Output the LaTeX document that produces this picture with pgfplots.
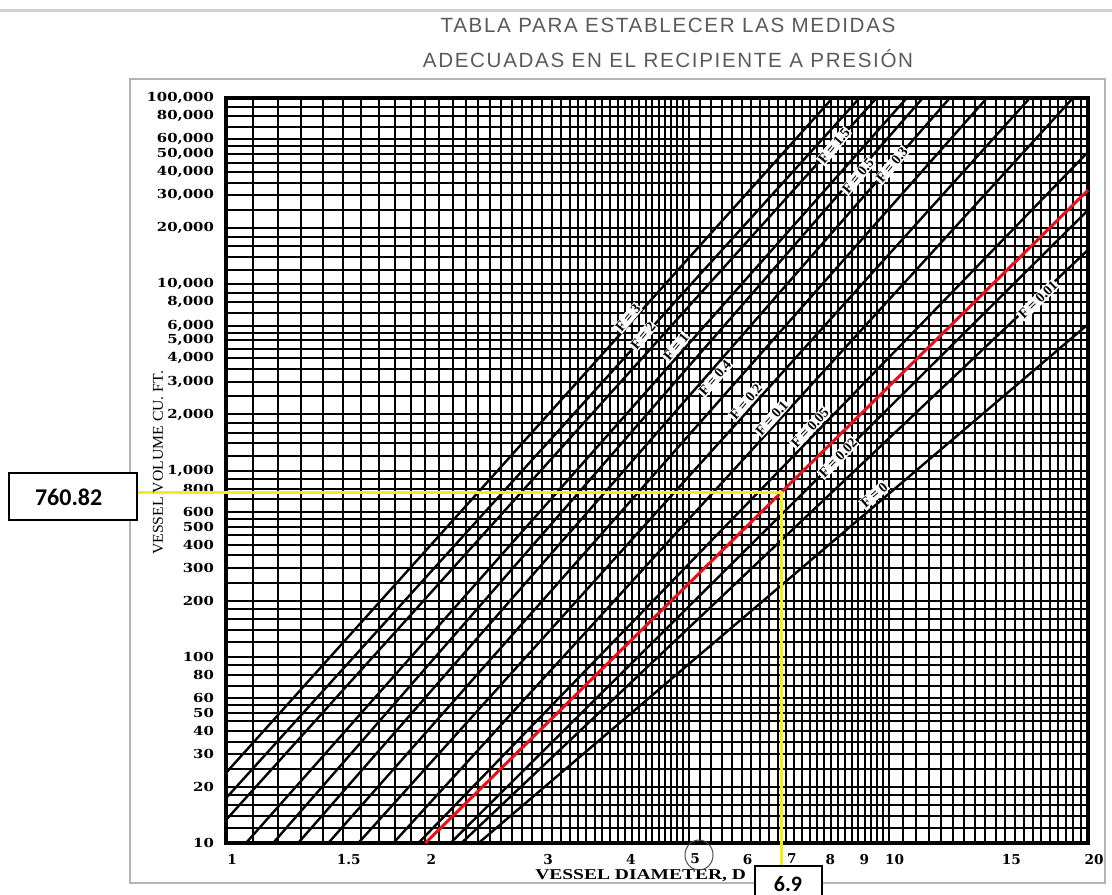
\documentclass[border=0pt]{standalone}
\usepackage{pgfplots}
\pgfplotsset{compat=1.18}
\usepackage{graphicx}
\usepackage{fontspec}
\setmainfont{Liberation Serif}
\newfontfamily\tickfont{DejaVu Serif}
\newfontfamily\titlefont[LetterSpace=8]{Liberation Sans}
\newfontfamily\boxfont{Carlito}
\definecolor{titlegray}{HTML}{5A5A5A}
\definecolor{framegray}{HTML}{B4B4B4}
\definecolor{marky}{HTML}{F0F014}
\definecolor{redline}{HTML}{E8101A}
\newcommand{\yl}[1]{\scalebox{1.2}[1]{#1}}
% label sitting on a diagonal line: x, y (pixels), angle, text
\newcommand{\flab}[4]{\node[fill=white, inner sep=0.5pt, rotate=#3,
  font=\bfseries\fontsize{7}{7}\selectfont] at (#1,#2) {F = #4};}

\begin{document}
\begin{tikzpicture}
\path[use as bounding box] (0,0) rectangle (556pt,-447pt);
\begin{axis}[
  at={(113pt,-421.5pt)}, anchor=south west,
  scale only axis, width=431pt, height=372.5pt,
  xmode=log, ymode=log,
  xmin=1, xmax=20, ymin=10, ymax=100000,
  xtick={1,1.5,2,3,4,5,6,7,8,9,10,15,20},
  xticklabels={1,1.5,2,3,4,5,6,7,8,9,10,15,20},
  minor xtick={1.1,1.2,1.3,1.4,1.6,1.7,1.8,1.9,
    2.1,2.2,2.3,2.4,2.5,2.6,2.7,2.8,2.9,3.1,3.2,3.3,3.4,3.5,3.6,3.7,3.8,3.9,
    4.1,4.2,4.3,4.4,4.5,4.6,4.7,4.8,4.9,5.2,5.4,5.6,5.8,6.2,6.4,6.6,6.8,
    7.2,7.4,7.6,7.8,8.2,8.4,8.6,8.8,9.2,9.4,9.6,9.8,
    10.5,11,11.5,12,12.5,13,13.5,14,14.5,15.5,16,16.5,17,17.5,18,18.5,19,19.5},
  ytick={10,20,30,40,50,60,80,100,200,300,400,500,600,800,
    1000,2000,3000,4000,5000,6000,8000,10000,20000,30000,40000,50000,60000,80000,100000},
  yticklabels={\yl{10},\yl{20},\yl{30},\yl{40},\yl{50},\yl{60},\yl{80},
    \yl{100},\yl{200},\yl{300},\yl{400},\yl{500},\yl{600},\yl{800},
    \yl{1,000},\yl{2,000},\yl{3,000},\yl{4,000},\yl{5,000},\yl{6,000},\yl{8,000},
    \yl{10,000},\yl{20,000},\yl{30,000},\yl{40,000},\yl{50,000},\yl{60,000},\yl{80,000},\yl{100,000}},
  minor ytick={12,14,16,18,25,35,45,55,70,90,
    120,140,160,180,250,350,450,550,700,900,
    1200,1400,1600,1800,2500,3500,4500,5500,7000,9000,
    12000,14000,16000,18000,25000,35000,45000,55000,70000,90000},
  grid=both,
  major grid style={black, line width=1pt},
  minor grid style={black, line width=1pt},
  axis line style={black, line width=1.6pt},
  major tick length=0pt, minor tick length=0pt,
  xticklabel style={font=\tickfont\bfseries\fontsize{6.8}{7}\selectfont, yshift=-2pt, xshift=3pt},
  yticklabel style={font=\tickfont\bfseries\fontsize{6.2}{7}\selectfont, xshift=-2.5pt},
  clip=false,
]
% F = 3
\addplot[black, line width=1.2pt] coordinates {(1,23.8) (8.23,100000)};
% F = 2
\addplot[black, line width=1.2pt] coordinates {(1,17.4) (9.04,100000)};
% F = 1.5
\addplot[black, line width=1.2pt] coordinates {(1,13.3) (9.59,100000)};
% F = 1
\addplot[black, line width=1.2pt] coordinates {(1.072,10) (10.65,100000)};
% F = 0.5
\addplot[black, line width=1.2pt] coordinates {(1.178,10) (11.26,100000)};
% F = 0.4
\addplot[black, line width=1.2pt] coordinates {(1.285,10) (12.37,100000)};
% F = 0.3
\addplot[black, line width=1.2pt] coordinates {(1.427,10) (14.07,100000)};
% F = 0.2
\addplot[black, line width=1.2pt] coordinates {(1.584,10) (16.34,100000)};
% F = 0.1
\addplot[black, line width=1.2pt] coordinates {(1.789,10) (18.98,100000)};
% F = 0.05
\addplot[black, line width=1.2pt] coordinates {(1.952,10) (20,51300)};
% F = 0.02
\addplot[black, line width=1.2pt] coordinates {(2.182,10) (20,25000)};
% F = 0.01
\addplot[black, line width=1.2pt] coordinates {(2.267,10) (20,15300)};
% F = 0
\addplot[black, line width=1.2pt] coordinates {(2.406,10) (20,6100)};
% marked line
\addplot[redline, line width=1.5pt] coordinates {(2.0,10) (20,32000)};
% reading at D = 6.9
\addplot[marky, line width=1.6pt] coordinates {(0.728,760.82) (6.9,760.82) (6.9,7.52)};
\end{axis}

\begin{scope}[x=0.5pt, y=-0.5pt]
  \draw[line width=1.5pt, black!18] (0,10) -- (1112,10);
  \draw[line width=1pt, framegray] (130,79) rectangle (1105,883);
  \node[text=titlegray, font=\titlefont\fontsize{10.3}{12}\selectfont] at (668,25) {TABLA PARA ESTABLECER LAS MEDIDAS};
  \node[text=titlegray, font=\titlefont\fontsize{10.3}{12}\selectfont] at (668,59) {ADECUADAS EN EL RECIPIENTE A PRESIÓN};
  \node[rotate=90, font=\fontsize{7.5}{8}\selectfont] at (158,463) {\scalebox{1.05}[1]{VESSEL VOLUME CU. FT.}};
  \node[font=\bfseries\fontsize{7.5}{8}\selectfont] at (658,876) {\scalebox{1.3}[1]{VESSEL DIAMETER, D\ \ FT}};
  \draw[black!70, line width=0.5pt] (699,855) ellipse (14 and 15);
  % labels on the lines
  \flab{628}{318}{50}{3}
  \flab{643}{336}{50}{2}
  \flab{676}{347}{50}{1}
  \flab{715}{378}{49}{0.4}
  \flab{746}{402}{49}{0.2}
  \flab{772}{418}{48}{0.1}
  \flab{810}{428}{47}{0.05}
  \flab{838}{458}{46}{0.02}
  \flab{874}{495}{41}{0}
  \flab{1038}{300}{44}{0.01}
  \flab{834}{146}{50}{1.5}
  \flab{858}{176}{50}{0.5}
  \flab{892}{165}{50}{0.3}
  % value boxes
  \draw[fill=white, line width=0.6pt] (9,473) rectangle (137,520);
  \node[font=\boxfont\bfseries\fontsize{12}{14}\selectfont, anchor=west] at (28,497) {760.82};
  \draw[fill=white, line width=0.6pt] (755,866) rectangle (822,905);
  \node[font=\boxfont\bfseries\fontsize{11}{13}\selectfont] at (788,884) {6.9};
\end{scope}
\end{tikzpicture}
\end{document}
